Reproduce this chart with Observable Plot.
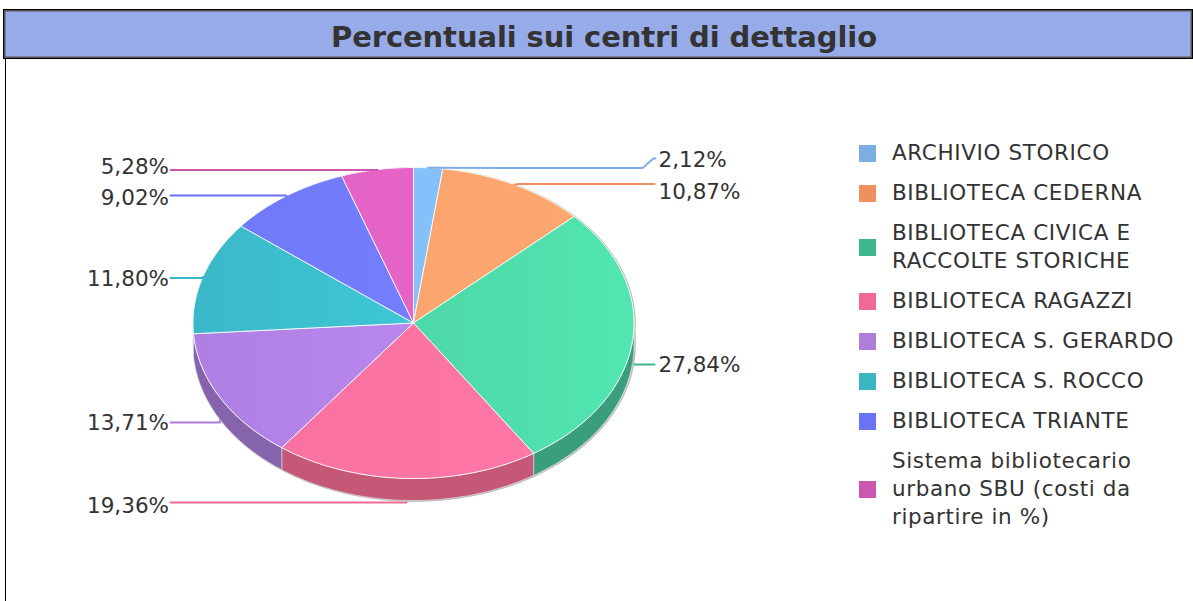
<!DOCTYPE html>
<html><head><meta charset="utf-8">
<script src="https://cdn.jsdelivr.net/npm/d3@7"></script>
<script src="https://cdn.jsdelivr.net/npm/@observablehq/plot@0.6"></script>
<style>
html,body{margin:0;padding:0;background:#fff;overflow:hidden}
#page{position:relative;width:1193px;height:601px;overflow:hidden;font-family:"DejaVu Sans",sans-serif;color:#333}
#rule{position:absolute;left:5px;top:9px;bottom:0;width:1px;background:#000}
#title{position:absolute;left:3px;top:9px;width:1190px;height:50px;box-sizing:border-box;padding-left:12px;background:#97abe9;border:1px solid #000;box-shadow:inset 0 0 0 1.5px #555;
 font-size:29px;font-weight:bold;text-align:center;line-height:55px;letter-spacing:-.1px;color:#333}
#chart{position:absolute;left:0;top:60px}
#legend{position:absolute;left:859px;top:139px;font-size:21.5px;line-height:28px;letter-spacing:.62px}
.row{display:flex;align-items:center;margin-bottom:12px}
.sw{width:17px;height:17px;margin-right:16px;flex:none}
.tx{white-space:pre-line}
</style></head><body>
<div id="page"><div id="chart"></div><div id="rule"></div><div id="title"></div><div id="legend"></div></div>
<script>
const titleText = "Percentuali sui centri di dettaglio";
const categories = ["ARCHIVIO STORICO","BIBLIOTECA CEDERNA","BIBLIOTECA CIVICA E\nRACCOLTE STORICHE","BIBLIOTECA RAGAZZI","BIBLIOTECA S. GERARDO","BIBLIOTECA S. ROCCO","BIBLIOTECA TRIANTE","Sistema bibliotecario\nurbano SBU (costi da\nripartire in %)"];
const values = [2.12,10.87,27.84,19.36,13.71,11.80,9.02,5.28];
const legendColors = ["#7caee4","#f0905f","#40b68c","#f16a96","#ae7ed8","#3ab6c2","#6a73f5","#cb57b0"];
const faceLeft  = ["#80bbf6","#f7a06c","#48cb9f","#f86f9f","#ae7fe2","#3ab8c8","#6f78f8","#de60bf"];
const faceRight = ["#88c6ff","#ffa970","#52e6b0","#ff79a8","#c490fb","#41d6e4","#7a84ff","#ee68d0"];
const sideColors = ["#5f89b5","#bc7048","#3a9e7e","#c55777","#8563ad","#2f8e99","#535ac0","#a04589"];
const labelText = values.map(v => v.toFixed(2).replace(".", ",") + "%");
// label layout, page pixels
const labelSide = [1,1,1,-1,-1,-1,-1,-1];
const labelY = [160,192,365,506,423,279,198,167];
const leaderY = [167.5,183.5,364,502,422,277.5,195,169.5];

const cx=413, cy=322.5, rx=220.5, ry=155.5, depth=22;
const total = d3.sum(values);
const angle = p => p/total*2*Math.PI;
const P = (a,off=0) => ({x:cx+rx*Math.sin(a), y:cy-ry*Math.cos(a)+off});
let acc=0;
const slices = values.map((v,i)=>{const a0=angle(acc); acc+=v; const a1=angle(acc); return {i,a0,a1,mid:(a0+a1)/2};});
const arc=(a0,a1,off=0)=>{const n=Math.max(2,Math.ceil((a1-a0)/0.02));return d3.range(n+1).map(k=>P(a0+(a1-a0)*k/n,off));};
const face=s=>{const c={x:cx,y:cy};return [c,...arc(s.a0,s.a1),c];};
const wall=s=>{const lo=Math.max(s.a0,Math.PI/2),hi=Math.min(s.a1,3*Math.PI/2);if(hi<=lo)return null;return [...arc(lo,hi),...arc(lo,hi,depth).reverse(),P(lo)];};
const leader=s=>{
  const i=s.i,p=P(s.mid),y=leaderY[i];
  if(i===0) return [p,{x:642,y:y},{x:653,y:158},{x:655,y:158}];
  if(i===1) return [p,{x:518,y:y},{x:654,y:y}];
  if(labelSide[i]>0) return [p,{x:p.x,y:y},{x:654,y:y}];
  return [p,{x:p.x,y:y},{x:170,y:y}];
};
const silhouette=[...arc(-0.02,Math.PI/2),...arc(Math.PI/2,3*Math.PI/2,depth),...arc(3*Math.PI/2,2*Math.PI)];

const defs=()=>{
  const d=d3.create("svg:defs");
  slices.forEach(s=>{
    const g=d.append("linearGradient").attr("id","g"+s.i).attr("gradientUnits","userSpaceOnUse")
      .attr("x1",cx-rx).attr("x2",cx+rx).attr("y1",0).attr("y2",0);
    g.append("stop").attr("offset",0).attr("stop-color",faceLeft[s.i]);
    g.append("stop").attr("offset",1).attr("stop-color",faceRight[s.i]);
  });
  return d.node();
};
const behind=new Set([2,3,4]);
const leaderMark=s=>Plot.line(leader(s),{x:"x",y:"y",stroke:legendColors[s.i],strokeWidth:2,curve:"linear"});
const marks=[
  defs,
  ...slices.filter(s=>behind.has(s.i)).map(leaderMark),
  Plot.line(silhouette,{x:"x",y:"y",stroke:"#bbb",strokeWidth:1.5,dx:1,dy:.5,curve:"linear"}),
  ...slices.filter(wall).map(s=>Plot.line(wall(s),{x:"x",y:"y",fill:sideColors[s.i],stroke:"#ddd",strokeWidth:.6,curve:"linear"})),
  ...slices.map(s=>Plot.line(face(s),{x:"x",y:"y",fill:`url(#g${s.i})`,stroke:"#fff",strokeWidth:1,strokeOpacity:.85,curve:"linear"})),
  ...slices.filter(s=>!behind.has(s.i)).map(leaderMark)
];
[1,-1].forEach(side=>marks.push(Plot.text(slices.filter(s=>labelSide[s.i]===side),{
  x:()=>side>0?658:168.5,y:s=>labelY[s.i],text:s=>labelText[s.i],textAnchor:side>0?"start":"end",
  fontSize:21.5,fill:"#333",fontFamily:"DejaVu Sans"})));
const plot=Plot.plot({width:1193,height:541,margin:0,
  x:{domain:[0,1193],range:[0,1193],axis:null},
  y:{domain:[60,601],range:[0,541],axis:null},
  marks});
plot.style.background="transparent";
document.getElementById("chart").append(plot);
document.getElementById("title").textContent=titleText;
const lg=d3.select("#legend");
categories.forEach((c,i)=>{
  const r=lg.append("div").attr("class","row");
  r.append("div").attr("class","sw").style("background",legendColors[i]);
  r.append("div").attr("class","tx").text(c);
});
</script></body></html>
